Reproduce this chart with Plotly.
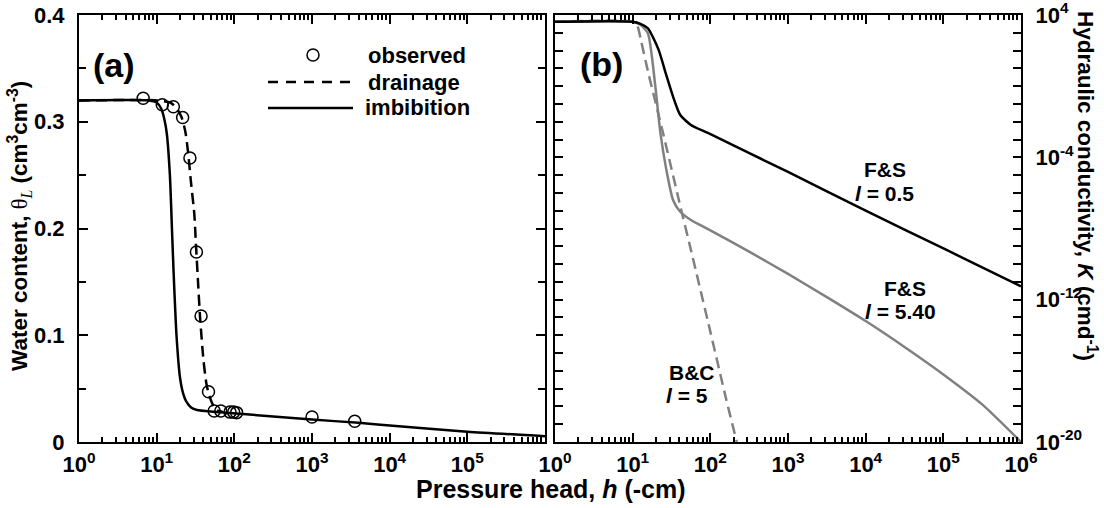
import plotly.graph_objects as go

# ---------------- panel (a): water retention ----------------
obs_h = [6.7, 11.8, 16.4, 21.6, 26.8, 32.5, 37.3, 46.5, 55, 67, 88, 98, 107, 1000, 3550]
obs_theta = [0.322, 0.316, 0.314, 0.304, 0.266, 0.178, 0.118, 0.047, 0.029, 0.029,
             0.028, 0.028, 0.0275, 0.0234, 0.0195]

drain_h = [1, 10, 15, 18, 21, 23.5, 25.5, 27.5, 30.5, 32, 34.2, 36.2, 40, 43.6, 46.8,
           52, 58, 70]
drain_theta = [0.32, 0.32, 0.318, 0.313, 0.304, 0.29, 0.27, 0.245, 0.214, 0.186, 0.148,
               0.117, 0.077, 0.055, 0.045, 0.036, 0.030, 0.0283]

imb_h = [1, 8, 10, 11.5, 12.5, 13.5, 14.8, 15.8, 16.5, 18, 20, 22, 24, 28, 33, 53, 96,
         1000, 4000, 1e4, 1e5, 1e6]
imb_theta = [0.32, 0.32, 0.318, 0.312, 0.303, 0.289, 0.25, 0.196, 0.16, 0.10, 0.06,
             0.045, 0.038, 0.032, 0.030, 0.0284, 0.027, 0.021, 0.018, 0.0155, 0.0097,
             0.0055]

# ---------------- panel (b): hydraulic conductivity ----------------
fs05_h = [1, 10, 12.6, 15.7, 21.6, 26.7, 33.1, 41.0, 56.2, 95.9, 1000, 1e4, 1.1e5, 1e6]
fs05_K = [4.2e3, 4.2e3, 3.2e3, 1.8e3, 1.1e2, 5.2, 2.6e-1, 2.4e-2, 6.6e-3, 2.2e-3,
          1.5e-5, 1.0e-7, 6.2e-10, 5.6e-12]

fs540_h = [1, 10, 12.6, 15.7, 19.4, 22.8, 26.7, 33.1, 41.0, 56.2, 100, 316, 1000, 3162,
           1e4, 31623, 1e5, 316228, 1e6]
fs540_K = [4.2e3, 4.2e3, 2.8e3, 9.3e2, 1.4, 2.2e-3, 3.0e-5, 4.0e-7, 8.7e-8, 3.0e-8,
           7.9e-9, 5.0e-10, 2.8e-11, 1.4e-12, 6.3e-14, 2.2e-15, 6.3e-17, 1.3e-18,
           1.0e-20]

bc5_h = [1, 10, 11.5, 12.6, 15.8, 25.1, 39.8, 56.2, 100, 158, 219]
bc5_K = [4.2e3, 4.2e3, 2.5e3, 5e2, 6.3, 1.6e-3, 3.2e-7, 6.3e-10, 1.6e-14, 3.2e-18, 1e-20]

# tick labels
h_ticks_a = [1, 10, 100, 1e3, 1e4, 1e5]
h_labels_a = ["10<sup>0</sup>", "10<sup>1</sup>", "10<sup>2</sup>", "10<sup>3</sup>",
              "10<sup>4</sup>", "10<sup>5</sup>"]
h_ticks_b = [1, 10, 100, 1e3, 1e4, 1e5, 1e6]
h_labels_b = h_labels_a + ["10<sup>6</sup>"]
theta_ticks = [0, 0.1, 0.2, 0.3, 0.4]
theta_labels = ["0", "0.1", "0.2", "0.3", "0.4"]
K_ticks = [1e4, 1e-4, 1e-12, 1e-20]
K_labels = ["10<sup>4</sup>", "10<sup>-4</sup>", "10<sup>-12</sup>", "10<sup>-20</sup>"]

W, H = 1104, 508
GRAY = "#808080"
FONT = "Liberation Sans, Arial, Helvetica, sans-serif"


def px(x):
    return x / W


def py(y):
    return (H - y) / H


fig = go.Figure()

fig.add_trace(go.Scatter(x=imb_h, y=imb_theta, mode="lines",
                         line=dict(color="black", width=2.5, shape="spline", smoothing=0.6),
                         xaxis="x", yaxis="y", showlegend=False))
fig.add_trace(go.Scatter(x=drain_h, y=drain_theta, mode="lines",
                         line=dict(color="black", width=2.5, dash="11px,6px",
                                   shape="spline", smoothing=0.6),
                         xaxis="x", yaxis="y", showlegend=False))
fig.add_trace(go.Scatter(x=obs_h, y=obs_theta, mode="markers",
                         marker=dict(symbol="circle-open", size=12, color="black",
                                     line=dict(width=1.5)),
                         xaxis="x", yaxis="y", showlegend=False))

fig.add_trace(go.Scatter(x=fs540_h, y=fs540_K, mode="lines",
                         line=dict(color=GRAY, width=2.5, shape="spline", smoothing=0.6),
                         xaxis="x2", yaxis="y2", showlegend=False))
fig.add_trace(go.Scatter(x=bc5_h, y=bc5_K, mode="lines",
                         line=dict(color=GRAY, width=2.5, dash="11px,6px",
                                   shape="spline", smoothing=0.6),
                         xaxis="x2", yaxis="y2", showlegend=False))
fig.add_trace(go.Scatter(x=fs05_h, y=fs05_K, mode="lines",
                         line=dict(color="black", width=2.5, shape="spline", smoothing=0.6),
                         xaxis="x2", yaxis="y2", showlegend=False))

minor_h = [m * 10 ** d for d in range(6) for m in range(2, 10)]
minor_K = [10.0 ** e for e in range(-20, 5)]

axis_base = dict(showline=True, linecolor="black", linewidth=2, mirror="ticks",
                 ticks="inside", tickcolor="black", tickwidth=1.5, showgrid=False,
                 zeroline=False, automargin=False, ticklabeloverflow="allow",
                 tickfont=dict(size=22, family=FONT, color="black", weight="bold"))

ydom = [py(442), py(15)]

fig.update_layout(
    width=W, height=H,
    margin=dict(l=0, r=0, t=0, b=0),
    paper_bgcolor="white", plot_bgcolor="white",
    font=dict(family=FONT, size=21, color="black", weight="bold"),
    showlegend=False,
    xaxis=dict(axis_base, type="log", range=[0, 6], domain=[px(79), px(545)],
               anchor="y", tickmode="array", tickvals=h_ticks_a, ticktext=h_labels_a,
               ticklen=9, ticklabelstandoff=2,
               minor=dict(tickvals=minor_h, ticks="inside", ticklen=5,
                          tickcolor="black", tickwidth=1.5)),
    yaxis=dict(axis_base, range=[0, 0.4], domain=ydom, anchor="x",
               tickmode="array", tickvals=theta_ticks, ticktext=theta_labels,
               ticklen=9, ticklabelstandoff=8,
               minor=dict(tickvals=[0.05, 0.15, 0.25, 0.35], ticks="inside", ticklen=7,
                          tickcolor="black", tickwidth=1.5)),
    xaxis2=dict(axis_base, type="log", range=[0, 6], domain=[px(555), px(1021)],
                anchor="y2", tickmode="array", tickvals=h_ticks_b, ticktext=h_labels_b,
                ticklen=9, ticklabelstandoff=2,
                minor=dict(tickvals=minor_h, ticks="inside", ticklen=5,
                           tickcolor="black", tickwidth=1.5)),
    yaxis2=dict(axis_base, type="log", range=[-20, 4], domain=ydom, anchor="x2",
                side="right", tickmode="array", tickvals=K_ticks, ticktext=K_labels,
                ticklen=8, ticklabelstandoff=8,
                minor=dict(tickvals=minor_K, ticks="inside", ticklen=8,
                           tickcolor="black", tickwidth=1.5)),
)


def label(text, x, y, size=21, angle=0, xanchor="center"):
    fig.add_annotation(text=text, x=px(x), y=py(y), xref="paper", yref="paper",
                       showarrow=False, textangle=angle, xanchor=xanchor,
                       yanchor="middle",
                       font=dict(size=size, family=FONT, color="black", weight="bold"))


# axis titles
label("Water content, <span style='font-family:Liberation Serif;font-weight:normal'>"
      "θ<sub><i>L</i></sub></span> (cm<sup>3</sup>cm<sup>-3</sup>)", 19, 226, size=22.5,
      angle=-90)
label("Hydraulic conductivity, <i>K</i> (cmd<sup>-1</sup>)", 1087, 186, size=22.5,
      angle=90)
label("Pressure head, <i>h</i> (-cm)", 551, 489, size=25)

# panel tags
label("(a)", 114, 65, size=34)
label("(b)", 601, 64, size=34)

# curve labels in panel (b)
label("F&S", 885, 170)
label("<i>l</i> = 0.5", 884, 193)
label("F&S", 905, 288)
label("<i>l</i> = 5.40", 900, 311)
label("B&C", 692, 372)
label("<i>l</i> = 5", 687, 395)

# legend for panel (a)
fig.add_shape(type="circle", xref="paper", yref="paper",
              x0=px(307), x1=px(319), y0=py(61), y1=py(49),
              line=dict(color="black", width=1.5), fillcolor="rgba(0,0,0,0)")
fig.add_shape(type="line", xref="paper", yref="paper",
              x0=px(268), x1=px(353), y0=py(82), y1=py(82),
              line=dict(color="black", width=2.5, dash="10px,8px"))
fig.add_shape(type="line", xref="paper", yref="paper",
              x0=px(268), x1=px(353), y0=py(108), y1=py(108),
              line=dict(color="black", width=2.5))
label("observed", 366, 55, size=22, xanchor="left")
label("drainage", 366, 82, size=22, xanchor="left")
label("imbibition", 363, 108, size=22, xanchor="left")

fig.write_html("out.html")
